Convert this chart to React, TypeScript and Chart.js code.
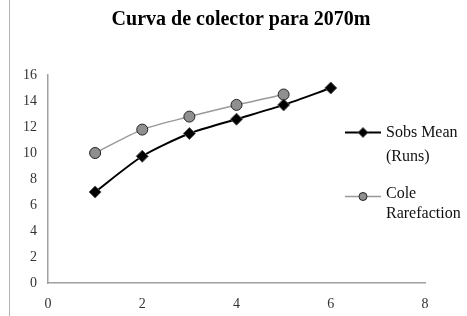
import React, { useEffect, useRef } from "react";
import { Chart, registerables } from "chart.js";

Chart.register(...registerables);

const TITLE = "Curva de colector para 2070m";
const xValues = [1, 2, 3, 4, 5, 6];
const sobsMean = [7.0, 9.75, 11.5, 12.6, 13.7, 15.0];
const coleX = [1, 2, 3, 4, 5];
const coleRarefaction = [10.0, 11.8, 12.8, 13.7, 14.5];
const seriesNames = [["Sobs Mean", "(Runs)"], ["Cole", "Rarefaction"]];

const SERIF = '"Liberation Serif", "Times New Roman", serif';

function drawMarker(ctx: CanvasRenderingContext2D, style: string, r: number, x: number, y: number) {
  ctx.beginPath();
  if (style === "circle") {
    ctx.arc(x, y, r, 0, Math.PI * 2);
  } else {
    ctx.moveTo(x, y - r);
    ctx.lineTo(x + r, y);
    ctx.lineTo(x, y + r);
    ctx.lineTo(x - r, y);
    ctx.closePath();
  }
  ctx.fill();
  ctx.stroke();
}

const decorPlugin = {
  id: "decor",
  afterDraw(chart: any) {
    const ctx = chart.ctx;
    ctx.save();
    // left frame line
    ctx.strokeStyle = "#b4b4b4";
    ctx.lineWidth = 1;
    ctx.beginPath();
    ctx.moveTo(9.5, 0);
    ctx.lineTo(9.5, chart.height);
    ctx.stroke();

    // title
    ctx.fillStyle = "#000";
    ctx.font = `bold 20px ${SERIF}`;
    ctx.textAlign = "center";
    ctx.textBaseline = "middle";
    ctx.fillText(TITLE, 241, 20);

    const rows = [
      { y: 132, ty: [133, 157], ds: chart.data.datasets[0], lines: seriesNames[0], style: "rectRot", r: 5 },
      { y: 196, ty: [194, 214], ds: chart.data.datasets[1], lines: seriesNames[1], style: "circle", r: 4 },
    ];
    for (const row of rows) {
      ctx.strokeStyle = row.ds.borderColor;
      ctx.lineWidth = row.ds.borderWidth;
      ctx.beginPath();
      ctx.moveTo(345, row.y + 0.5);
      ctx.lineTo(381, row.y + 0.5);
      ctx.stroke();
      ctx.fillStyle = row.ds.pointBackgroundColor;
      ctx.strokeStyle = row.ds.pointBorderColor;
      ctx.lineWidth = 1;
      drawMarker(ctx, row.style, row.r, 363, row.y + 0.5);
      ctx.fillStyle = "#111";
      ctx.font = `16px ${SERIF}`;
      ctx.textBaseline = "middle";
      ctx.textAlign = "left";
      row.lines.forEach((t: string, i: number) => {
        ctx.fillText(t, 386, row.ty[i]);
      });
    }
    ctx.restore();
  },
};

export default function App() {
  const ref = useRef<HTMLCanvasElement>(null);
  useEffect(() => {
    if (!ref.current) return;
    const chart = new Chart(ref.current, {
      type: "line",
      data: {
        datasets: [
          {
            label: seriesNames[0].join(" "),
            data: xValues.map((x, i) => ({ x, y: sobsMean[i] })),
            borderColor: "#000",
            borderWidth: 2,
            pointStyle: "rectRot",
            pointRadius: 6,
            pointBackgroundColor: "#000",
            pointBorderColor: "#555",
            pointBorderWidth: 1,
            tension: 0.25,
          },
          {
            label: seriesNames[1].join(" "),
            data: coleX.map((x, i) => ({ x, y: coleRarefaction[i] })),
            borderColor: "#999",
            borderWidth: 1.5,
            pointStyle: "circle",
            pointRadius: 5.5,
            pointBackgroundColor: "#8f8f8f",
            pointBorderColor: "#222",
            pointBorderWidth: 1,
            tension: 0.25,
          },
        ],
      },
      options: {
        animation: false,
        responsive: false,
        maintainAspectRatio: false,
        layout: { padding: { left: 0, right: 42, top: 75, bottom: 0 } },
        plugins: {
          legend: { display: false },
          tooltip: { enabled: false },
          title: { display: false },
        },
        scales: {
          x: {
            type: "linear",
            min: 0,
            max: 8,
            ticks: { stepSize: 2, color: "#333", font: { family: SERIF, size: 14 }, padding: 13 },
            grid: { display: false, drawTicks: false },
            border: { display: true, color: "#a0a0a0", width: 1.5 },
            afterFit: (s: any) => { s.height = 33; },
          },
          y: {
            min: 0,
            max: 16,
            ticks: { stepSize: 2, color: "#333", font: { family: SERIF, size: 14 }, padding: 11 },
            grid: { display: false, drawTicks: false },
            border: { display: true, color: "#a0a0a0", width: 1.5 },
            afterFit: (s: any) => { s.width = 48; },
          },
        },
      },
      plugins: [decorPlugin],
    } as any);
    return () => chart.destroy();
  }, []);
  return (
    <div style={{ position: "fixed", left: 0, top: 0, width: 467, height: 316, background: "#fff" }}>
      <canvas ref={ref} width={467} height={316} style={{ width: 467, height: 316 }} />
    </div>
  );
}
